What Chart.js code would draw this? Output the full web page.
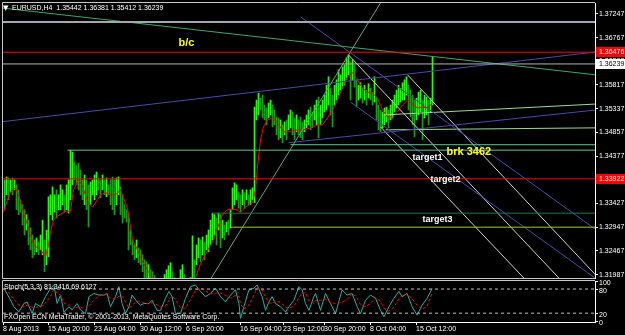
<!DOCTYPE html>
<html>
<head>
<meta charset="utf-8">
<script src="https://cdn.jsdelivr.net/npm/chart.js@4.4.0/dist/chart.umd.min.js"></script>
<style>
  html, body { margin: 0; padding: 0; background: #000; }
  #wrap { position: relative; width: 625px; height: 335px; overflow: hidden; background: #000; }
  canvas { position: absolute; left: 0; }
  #main { top: 0; }
  #stoch { top: 279px; }
</style>
</head>
<body>
<div id="wrap">
  <canvas id="stoch" width="625" height="56"></canvas>
  <canvas id="main" width="625" height="280"></canvas>
</div>
<script>
// EURUSD H4 bars, one per index (high / low)
const barHigh = [
  1.3390,1.3396,1.3394,1.3390,1.3394,1.3390,1.3380,1.3370,1.3350,1.3340,
  1.3330,1.3320,1.3309,1.3293,1.3279,1.3269,1.3273,1.3265,1.3279,1.3309,
  1.3269,1.3289,1.3356,1.3360,1.3376,1.3360,1.3370,1.3360,1.3380,1.3370,
  1.3360,1.3380,1.3390,1.3450,1.3446,1.3426,1.3420,1.3424,1.3410,1.3390,
  1.3400,1.3390,1.3380,1.3386,1.3390,1.3400,1.3406,1.3394,1.3390,1.3400,
  1.3390,1.3394,1.3380,1.3390,1.3396,1.3390,1.3394,1.3396,1.3376,1.3360,
  1.3340,1.3330,1.3323,1.3289,1.3269,1.3259,1.3269,1.3253,1.3249,1.3239,
  1.3229,1.3225,1.3219,1.3209,1.3205,1.3197,1.3189,1.3182,1.3178,1.3189,
  1.3199,1.3209,1.3217,1.3223,1.3205,1.3193,1.3184,1.3189,1.3209,1.3219,
  1.3199,1.3189,1.3182,1.3193,1.3277,1.3229,1.3259,1.3273,1.3269,1.3275,
  1.3265,1.3279,1.3289,1.3309,1.3323,1.3320,1.3313,1.3323,1.3320,1.3309,
  1.3299,1.3305,1.3309,1.3330,1.3374,1.3384,1.3380,1.3366,1.3360,1.3370,
  1.3364,1.3370,1.3360,1.3370,1.3374,1.3537,1.3551,1.3565,1.3555,1.3561,
  1.3541,1.3535,1.3545,1.3551,1.3541,1.3531,1.3517,1.3515,1.3511,1.3501,
  1.3507,1.3511,1.3521,1.3531,1.3527,1.3515,1.3521,1.3511,1.3517,1.3507,
  1.3511,1.3521,1.3531,1.3537,1.3527,1.3541,1.3551,1.3557,1.3541,1.3551,
  1.3561,1.3581,1.3598,1.3575,1.3561,1.3581,1.3592,1.3612,1.3602,1.3618,
  1.3622,1.3636,1.3642,1.3628,1.3632,1.3622,1.3592,1.3581,1.3586,1.3575,
  1.3581,1.3571,1.3584,1.3575,1.3567,1.3598,1.3557,1.3541,1.3531,1.3527,
  1.3535,1.3537,1.3531,1.3541,1.3551,1.3561,1.3571,1.3581,1.3575,1.3586,
  1.3592,1.3598,1.3581,1.3571,1.3561,1.3551,1.3555,1.3567,1.3571,1.3551,
  1.3561,1.3557,1.3551,1.3555,1.3638
];
const barLow = [
  1.3330,1.3360,1.3350,1.3366,1.3360,1.3370,1.3330,1.3320,1.3325,1.3299,
  1.3279,1.3289,1.3259,1.3249,1.3233,1.3239,1.3245,1.3239,1.3249,1.3239,
  1.3205,1.3219,1.3235,1.3320,1.3309,1.3325,1.3313,1.3330,1.3330,1.3340,
  1.3325,1.3330,1.3323,1.3350,1.3380,1.3390,1.3380,1.3370,1.3360,1.3350,
  1.3340,1.3330,1.3295,1.3340,1.3360,1.3350,1.3360,1.3370,1.3354,1.3370,
  1.3360,1.3356,1.3360,1.3340,1.3330,1.3320,1.3340,1.3360,1.3320,1.3303,
  1.3313,1.3305,1.3249,1.3259,1.3239,1.3229,1.3233,1.3223,1.3219,1.3205,
  1.3193,1.3178,1.3189,1.3168,1.3164,1.3156,1.3148,1.3148,1.3138,1.3148,
  1.3158,1.3168,1.3172,1.3178,1.3168,1.3158,1.3148,1.3152,1.3168,1.3178,
  1.3164,1.3148,1.3148,1.3158,1.3193,1.3189,1.3219,1.3233,1.3225,1.3239,
  1.3229,1.3249,1.3245,1.3259,1.3269,1.3279,1.3259,1.3289,1.3253,1.3273,
  1.3269,1.3285,1.3279,1.3293,1.3330,1.3340,1.3350,1.3333,1.3325,1.3340,
  1.3333,1.3350,1.3340,1.3340,1.3350,1.3344,1.3511,1.3521,1.3531,1.3515,
  1.3511,1.3501,1.3515,1.3521,1.3497,1.3501,1.3481,1.3471,1.3475,1.3465,
  1.3481,1.3471,1.3491,1.3495,1.3481,1.3471,1.3487,1.3481,1.3475,1.3471,
  1.3487,1.3495,1.3501,1.3491,1.3495,1.3511,1.3501,1.3475,1.3501,1.3515,
  1.3527,1.3531,1.3541,1.3521,1.3497,1.3541,1.3551,1.3561,1.3571,1.3575,
  1.3581,1.3592,1.3602,1.3551,1.3592,1.3577,1.3537,1.3551,1.3555,1.3545,
  1.3551,1.3541,1.3555,1.3551,1.3541,1.3547,1.3511,1.3491,1.3487,1.3495,
  1.3501,1.3507,1.3495,1.3511,1.3515,1.3527,1.3535,1.3541,1.3547,1.3551,
  1.3551,1.3561,1.3531,1.3517,1.3501,1.3477,1.3511,1.3521,1.3527,1.3471,
  1.3515,1.3521,1.3501,1.3527,1.3541
];

// red moving average, read at a few bar positions
const maIdx = [-0.5,1.5,3,5.5,7,9,11.5,14.5,18,20.5,22,23,24.5,26.5,30.5,33,34.5,37,39,41.5,
  44,46.5,48,50.5,53,55.5,58,59.5,61.5,64,66.5,69,72,75.5,80.5,85.5,90.5,95.5,98,100.5,
  103,104.5,106.5,109,111.5,115.5,118,120.5,124,125.5,126.5,128,129.5,131.5,134,136.5,139.5,143,146.5,149.5,
  153,156.5,159,161.5,164,166.5,169,171.5,174,176.5,179,181.5,184,186.5,189,191.5,194,196.5,199,201.5,
  204,206.5,209,211.5,214];
const maVal = [1.3325,1.3350,1.3366,1.3374,1.3360,1.3330,1.3299,1.3259,1.3249,1.3235,1.3259,1.3285,1.3309,1.3317,1.3327,1.3327,1.3370,1.3390,1.3378,1.3346,
  1.3335,1.3350,1.3360,1.3364,1.3360,1.3360,1.3370,1.3354,1.3333,1.3269,1.3249,1.3225,1.3205,1.3184,1.3168,1.3164,1.3168,1.3193,1.3221,1.3239,
  1.3259,1.3269,1.3293,1.3321,1.3330,1.3331,1.3325,1.3335,1.3344,1.3370,1.3416,1.3471,1.3497,1.3511,1.3515,1.3505,1.3487,1.3487,1.3491,1.3491,
  1.3495,1.3501,1.3501,1.3515,1.3531,1.3551,1.3577,1.3598,1.3606,1.3592,1.3575,1.3567,1.3565,1.3555,1.3531,1.3517,1.3517,1.3527,1.3541,1.3551,
  1.3543,1.3535,1.3537,1.3535,1.3545];

// Stochastic(5,3,3): main and signal
const stochIdx = [-0.3,2.2,4.7,7.2,9.7,11.3,13.8,15.5,18,20.5,
  23,24.7,26.3,28,29.7,32.2,33.8,36.3,38,40.5,
  42.2,44.7,47.2,49.7,51.3,53,55.5,57.2,58.8,60.5,
  62.2,63.8,66.3,68,69.7,72.2,73.8,76.3,78,80.5,
  82.2,83.8,85.5,88,90.5,93,95.5,98,100.5,103,
  105.5,108,110.5,113,115.5,117.2,118,119.7,122.2,124.7,
  126.3,128.8,130.5,132.2,133.8,135.5,138,140.5,142.2,144.7,
  147.2,148.8,150.5,152.2,154.7,155.5,158,160.5,163,165.5,
  168.8,171.3,173.8,176.3,178,180.5,183,185.5,188,189.7,
  192.2,194.7,197.2,198.8,201.3,203.8,206.3,208.8,211.3,213.8];
const stochMain = [82,60,36,23,44,48,19,44,36,61,
  82,90,44,65,23,36,28,44,28,19,
  61,69,65,65,69,36,61,86,44,19,
  36,65,48,40,44,44,52,27,27,57,
  74,61,19,19,57,86,90,74,61,69,
  82,61,48,65,78,44,7,36,78,82,
  90,61,27,48,61,44,36,23,36,52,
  86,78,44,27,61,69,27,69,44,19,
  78,65,69,36,19,52,65,57,27,11,
  36,57,74,61,69,36,15,40,57,81.3];
const stochSignal = [80,70,55,40,35,40,35,35,35,45,
  62,80,70,65,45,40,30,35,35,30,
  38,52,64,66,66,57,55,62,62,48,
  32,40,50,50,45,43,46,41,35,38,
  52,64,52,34,32,54,77,83,75,68,
  70,70,64,58,64,62,43,30,40,65,
  83,78,60,45,45,50,47,35,32,38,
  58,72,70,50,44,52,52,55,47,44,
  47,54,70,57,41,36,45,58,50,32,
  25,35,56,64,68,56,40,30,37,69.6];

// axis ticks
const priceTicks = [1.37247,1.36767,1.36292,1.35817,1.35337,1.34857,1.34377,1.33902,1.33427,1.32947,1.32467,1.31987];
const stochTicks = [0,20,80,100];
const timeIdx = [-0.75,21.75,44.75,67.75,90.75,117.75,139.25,159.75,182.75,205.75];
const timeLabels = ['8 Aug 2013','15 Aug 20:00','23 Aug 04:00','30 Aug 12:00','6 Sep 20:00',
  '16 Sep 04:00','23 Sep 12:00','30 Sep 20:00','8 Oct 04:00','15 Oct 12:00'];

// drawn objects: trend lines [idx1, price1, idx2, price2]
const trendBC      = [-2, 1.3737, 295.5, 1.3602];
const trendUp      = [100, 1.3170, 188, 1.3747];
const trendBlueTop = [-2, 1.3507, 295.5, 1.3648];
const trendBlueLow = [142, 1.3465, 295.5, 1.3531];
const chanBlueA    = [148, 1.3719, 298, 1.3283];
const chanBlueB    = [173, 1.3547, 298, 1.3184];
const chanWhite1   = [172, 1.3642, 280.5, 1.3178];
const chanWhite2   = [201.5, 1.3602, 298, 1.3188];
const chanWhite3   = [188, 1.3497, 263, 1.3178];
const supportA     = [189.5, 1.3521, 295.5, 1.3543];
const supportB     = [190.5, 1.3491, 295.5, 1.3495];
// horizontal levels [price, first idx]
const levelGray    = [1.37085, null];
const levelRedTop  = [1.36476, null];
const levelBid     = [1.36239, null];
const levelBrk1    = [1.3461, 143];
const levelBrk2    = [1.3450, 31.5];
const levelRedMid  = [1.33922, null];
const levelDark    = [1.3323, 104];
const levelTarget3 = [1.32947, 112.5];

const X_MIN = -0.75, X_MAX = 295.25;
const FONT = 'Liberation Sans';

function seg(a, color, width, dash) {
  return {
    type: 'line', order: 1, borderColor: color, borderWidth: width || 1,
    borderDash: dash || [], pointRadius: 0, fill: false,
    data: [{ x: a[0], y: a[1] }, { x: a[2], y: a[3] }]
  };
}
function hline(l, color, width) {
  const start = l[1] === null ? X_MIN : l[1];
  return seg([start, l[0], X_MAX, l[0]], color, width);
}
// keep Chart.js from shrinking the plot to make room for edge labels
function noPad(s) {
  s.paddingTop = 0; s.paddingBottom = 0; s.paddingLeft = 0; s.paddingRight = 0;
}

const barColors = barHigh.map((h, i) => {
  if (i === 0) return '#00e000';
  const mid = (h + barLow[i]) / 2, prev = (barHigh[i - 1] + barLow[i - 1]) / 2;
  return mid >= prev ? '#22ff00' : '#10a010';
});

const mainDecor = {
  id: 'mainDecor',
  afterDraw(chart) {
    const { ctx, chartArea: a, scales: { x, y } } = chart;
    ctx.save();
    ctx.strokeStyle = '#c8c8c8';
    ctx.lineWidth = 1;
    ctx.beginPath();
    ctx.moveTo(a.left - 0.5, a.top - 0.5);
    ctx.lineTo(a.right, a.top - 0.5);
    ctx.moveTo(a.left - 0.5, a.top - 0.5);
    ctx.lineTo(a.left - 0.5, a.bottom + 0.5);
    ctx.lineTo(a.right, a.bottom + 0.5);
    ctx.stroke();

    ctx.fillStyle = '#ffffff';
    ctx.textBaseline = 'middle';
    ctx.textAlign = 'left';
    ctx.font = '7px "DejaVu Sans"';
    ctx.fillText('\u25BC', 3, 8);
    ctx.font = '7px "' + FONT + '"';
    ctx.fillText('EURUSD,H4  1.35442 1.36381 1.35412 1.36239', 12, 8);

    const notes = [
      ['b/c', 87, 1.3666, '#ffff00', 'bold 11px'],
      ['brk 3462', 221, 1.3446, '#ffff00', 'bold 11px'],
      ['target1', 204, 1.3436, '#ffffff', 'bold 9px'],
      ['target2', 213, 1.3390, '#ffffff', 'bold 9px'],
      ['target3', 209, 1.3311, '#ffffff', 'bold 9px']
    ];
    notes.forEach(n => {
      ctx.font = n[4] + ' "' + FONT + '"';
      ctx.fillStyle = n[3];
      ctx.fillText(n[0], x.getPixelForValue(n[1]), y.getPixelForValue(n[2]));
    });

    const boxes = [[1.36476, '#ff0000', '#ffffff'], [1.36239, '#ffffff', '#000000'], [1.33922, '#ff0000', '#ffffff']];
    boxes.forEach(b => {
      const py = Math.round(y.getPixelForValue(b[0]));
      ctx.fillStyle = b[1];
      ctx.fillRect(a.right + 1, py - 5, 29, 10);
      ctx.fillStyle = b[2];
      ctx.font = '7px "' + FONT + '"';
      ctx.fillText(b[0].toFixed(5), a.right + 4, py);
    });
    ctx.restore();
  }
};

new Chart(document.getElementById('main'), {
  type: 'line',
  data: {
    datasets: [
      {
        type: 'bar', order: 10,
        data: barHigh.map((h, i) => ({ x: i, y: [barLow[i], h] })),
        backgroundColor: barColors, borderWidth: 0, barThickness: 1, grouped: false
      },
      {
        type: 'line', order: 5, borderColor: '#ff0000', borderWidth: 1, pointRadius: 0,
        data: maIdx.map((v, k) => ({ x: v, y: maVal[k] }))
      },
      hline(levelGray, '#a0a8b0', 2),
      hline(levelRedTop, '#ff0000', 1),
      hline(levelBid, '#b4b4b4', 1),
      hline(levelBrk1, '#5cc88a', 1),
      hline(levelBrk2, '#5cc88a', 1),
      hline(levelRedMid, '#ff0000', 1),
      hline(levelDark, '#2f6f4f', 1),
      hline(levelTarget3, '#9acd32', 1),
      seg(trendBC, '#3aa86a'),
      seg(trendUp, '#5aa88a'),
      seg(trendBlueTop, '#4a4aa8'),
      seg(trendBlueLow, '#4a4aa8'),
      seg(chanBlueA, '#4a4aa8'),
      seg(chanBlueB, '#4a4aa8'),
      seg(chanWhite1, '#d0d0d0'),
      seg(chanWhite2, '#d0d0d0'),
      seg(chanWhite3, '#d0d0d0'),
      seg(supportA, '#9ad89a'),
      seg(supportB, '#9ad89a')
    ]
  },
  options: {
    responsive: false, animation: false, devicePixelRatio: 1, events: [],
    layout: { padding: { left: 3, top: 3, right: 0, bottom: 2 } },
    plugins: { legend: { display: false }, tooltip: { enabled: false } },
    scales: {
      x: { type: 'linear', min: X_MIN, max: X_MAX, offset: false, display: false },
      y: {
        type: 'linear', position: 'right', min: 1.31922, max: 1.37468, offset: false,
        afterFit: s => { s.width = 30; noPad(s); },
        afterBuildTicks: s => { s.ticks = priceTicks.map(v => ({ value: v })); },
        ticks: { color: '#ffffff', autoSkip: false, padding: 1, font: { family: FONT, size: 7 },
                 callback: v => Number(v).toFixed(5) },
        grid: { drawOnChartArea: false, offset: false, tickLength: 3, tickColor: '#ffffff' },
        border: { display: true, color: '#ffffff' }
      }
    }
  },
  plugins: [mainDecor]
});

const stochDecor = {
  id: 'stochDecor',
  afterDraw(chart) {
    const { ctx, chartArea: a } = chart;
    ctx.save();
    ctx.strokeStyle = '#c8c8c8';
    ctx.lineWidth = 1;
    ctx.beginPath();
    ctx.moveTo(a.left - 0.5, a.bottom + 0.5);
    ctx.lineTo(a.left - 0.5, a.top - 0.5);
    ctx.lineTo(a.right, a.top - 0.5);
    ctx.stroke();
    ctx.fillStyle = '#ffffff';
    ctx.font = '7px "' + FONT + '"';
    ctx.textBaseline = 'middle';
    ctx.fillText('Stoch(5,3,3) 81.3416 69.6127', 4, a.top + 6);
    ctx.fillText('FXOpen ECN MetaTrader, \u00A9 2001-2013, MetaQuotes Software Corp.', 4, a.bottom - 5);
    ctx.restore();
  }
};

new Chart(document.getElementById('stoch'), {
  type: 'line',
  data: {
    datasets: [
      { data: [{ x: X_MIN, y: 80 }, { x: X_MAX, y: 80 }], borderColor: '#c0c0c0', borderWidth: 1, borderDash: [3, 3], pointRadius: 0 },
      { data: [{ x: X_MIN, y: 20 }, { x: X_MAX, y: 20 }], borderColor: '#c0c0c0', borderWidth: 1, borderDash: [3, 3], pointRadius: 0 },
      { data: stochIdx.map((v, k) => ({ x: v, y: stochSignal[k] })), borderColor: '#ff0000', borderWidth: 1, borderDash: [3, 2], pointRadius: 0 },
      { data: stochIdx.map((v, k) => ({ x: v, y: stochMain[k] })), borderColor: '#20b2aa', borderWidth: 1, pointRadius: 0 }
    ]
  },
  options: {
    responsive: false, animation: false, devicePixelRatio: 1, events: [],
    layout: { padding: { left: 3, top: 2, right: 0, bottom: 0 } },
    plugins: { legend: { display: false }, tooltip: { enabled: false } },
    scales: {
      x: {
        type: 'linear', min: X_MIN, max: X_MAX, offset: false,
        afterFit: s => { s.height = 13; noPad(s); },
        afterBuildTicks: s => { s.ticks = timeIdx.map(v => ({ value: v })); },
        ticks: { color: '#ffffff', align: 'start', padding: 0, maxRotation: 0, autoSkip: false,
                 font: { family: FONT, size: 7 }, callback: (v, i) => timeLabels[i] },
        grid: { drawOnChartArea: false, offset: false, tickLength: 3, tickColor: '#ffffff' },
        border: { display: true, color: '#ffffff' }
      },
      y: {
        type: 'linear', position: 'right', min: -2, max: 100,
        afterFit: s => { s.width = 30; noPad(s); },
        afterBuildTicks: s => { s.ticks = stochTicks.map(v => ({ value: v })); },
        ticks: { color: '#ffffff', padding: 1, labelOffset: 2, autoSkip: false,
                 font: { family: FONT, size: 7 }, callback: v => String(v) },
        grid: { drawOnChartArea: false, tickLength: 3, tickColor: '#ffffff' },
        border: { display: true, color: '#ffffff' }
      }
    }
  },
  plugins: [stochDecor]
});
</script>
</body>
</html>
